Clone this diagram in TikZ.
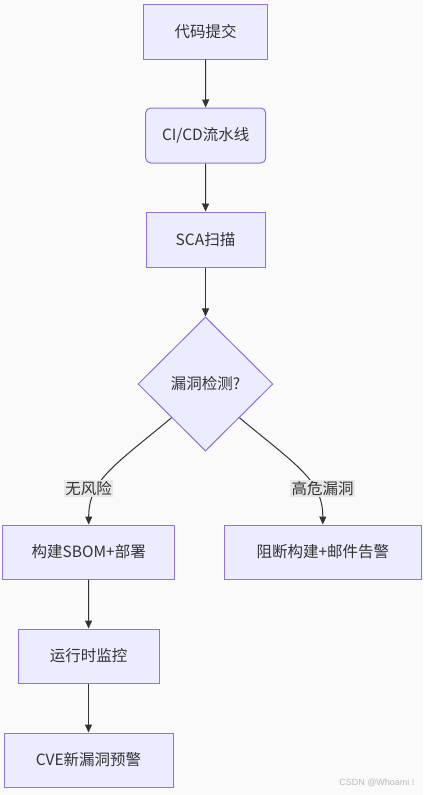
\documentclass[tikz,border=0pt]{standalone}
\usepackage{fontspec}
\setmainfont{Noto Sans CJK SC}
\newfontfamily\wmfont{Liberation Sans}
\usetikzlibrary{shapes.geometric,arrows.meta}
\definecolor{nodefill}{HTML}{ECECFF}
\definecolor{nodeline}{HTML}{9370DB}
\definecolor{edgecol}{HTML}{333333}
\definecolor{textcol}{HTML}{333333}
\definecolor{bgcol}{HTML}{FAFAFA}
\definecolor{lblbg}{HTML}{E8E8E8}
\begin{document}
\begin{tikzpicture}[x=1pt,y=-1pt,
  box/.style={draw=nodeline, fill=nodefill, line width=1pt, text=textcol,
    font=\fontsize{15.5}{18}\selectfont, inner sep=0pt, minimum height=54pt},
  decision/.style={diamond, draw=nodeline, fill=nodefill, line width=1pt, text=textcol,
    font=\fontsize{15.5}{18}\selectfont, inner sep=0pt, minimum width=135pt, minimum height=134pt},
  edge/.style={draw=edgecol, line width=1pt, -{Triangle[length=8pt,width=7pt]}},
  lbl/.style={fill=lblbg, text=textcol, font=\fontsize{15.5}{18}\selectfont, inner sep=1.5pt}
]
\fill[bgcol] (0,0) rectangle (423,795);
\useasboundingbox (0,0) rectangle (423,795);

\node[box, minimum width=124pt, minimum height=55pt] (n1) at (205.5,31.5) {代码提交};
\node[box, rounded corners=5pt, minimum width=120pt, minimum height=55pt] (n2) at (205.7,135.5) {CI/CD流水线};
\node[box, minimum width=119pt, minimum height=55pt] (n3) at (205.5,239.5) {SCA扫描};
\node[decision] (d) at (205.5,384) {漏洞检测?};
\node[box, minimum width=172pt] (n5) at (88.7,552) {构建SBOM+部署};
\node[box, minimum width=197pt] (n6) at (322.8,552) {阻断构建+邮件告警};
\node[box, minimum width=141pt] (n7) at (88.5,656) {运行时监控};
\node[box, minimum width=169pt] (n8) at (88.5,760) {CVE新漏洞预警};

\draw[edge] (n1) -- (n2);
\draw[edge] (n2) -- (n3);
\draw[edge] (n3) -- (d);
\draw[edge] (d.south west) .. controls (115,465) and (n5.north |- 0,480) .. (n5.north);
\draw[edge] (d.south east) .. controls (296,465) and (n6.north |- 0,480) .. (n6.north);
\draw[edge] (n5) -- (n7);
\draw[edge] (n7) -- (n8);

\node[lbl] (l1) at (88.5,488.5) {无风险};
\node[lbl] (l2) at (322.5,488.5) {高危漏洞};

\node[text=gray!55, font=\wmfont\fontsize{9}{11}\selectfont, anchor=east] (wm) at (418,783) {CSDN @Whoami !};
\end{tikzpicture}
\end{document}
